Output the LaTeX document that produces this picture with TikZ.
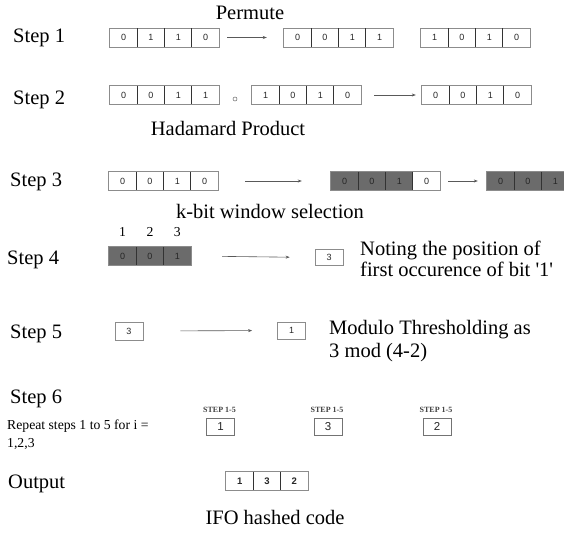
\documentclass[tikz,border=0pt]{standalone}
\usepackage{fontspec}
\setmainfont{Liberation Serif}
\newfontfamily\bitfont{Liberation Sans}
\usetikzlibrary{arrows.meta,calc}

% A row of bit cells: #1 name, #2 left x, #3 centre y, #4 value/style list, #5 cell count
\newcommand\bitgroup[5]{%
  \foreach \v/\s [count=\i] in {#4}
    {\node[\s] (#1\i) at ({#2+27.3*(\i-0.5)},#3) {\v};}
  \draw[frame] (#11.north west) rectangle (#1#5.south east);
  \foreach \i in {2,...,#5} {\draw[sepline] (#1\i.north west) -- (#1\i.south west);}
}

\begin{document}
\begin{tikzpicture}[x=1pt,y=-1pt,
  lbl/.style={font=\fontsize{20.5}{24}\selectfont, inner sep=0pt},
  small/.style={font=\fontsize{13.7}{16}\selectfont, inner sep=0pt},
  cell/.style={minimum width=27.3pt, minimum height=18.5pt, inner sep=0pt,
    font=\bitfont\fontsize{9}{10}\selectfont, text=black!85},
  dark/.style={cell, fill=black!58},
  outcell/.style={cell, font=\bitfont\bfseries\fontsize{9.5}{10}\selectfont},
  frame/.style={draw=black!45, line width=0.7pt},
  sepline/.style={draw=black!80, line width=0.7pt},
  single/.style={cell, frame, minimum width=28pt, minimum height=17pt},
  tag/.style={font=\bfseries\fontsize{8}{9}\selectfont, inner sep=0pt, text=black!75},
  arr/.style={draw=black!65, line width=0.6pt, -{Stealth[length=4pt,width=3pt]}},
]
\clip (0,0) rectangle (564,532);
\fill[white] (0,0) rectangle (564,532);

% Step 1: permutation
\node[lbl, anchor=base] (perm) at (250,20) {Permute};
\node[lbl, anchor=base west] (st1) at (13,43) {Step 1};
\bitgroup{a}{110}{37.5}{0/cell,1/cell,1/cell,0/cell}{4}
\bitgroup{b}{284}{37.5}{0/cell,0/cell,1/cell,1/cell}{4}
\bitgroup{c}{421}{37.5}{1/cell,0/cell,1/cell,0/cell}{4}
\draw[arr, shorten <=8pt, shorten >=17pt] (a4.east) -- (b1.west);

% Step 2: Hadamard product
\node[lbl, anchor=base west] (st2) at (13,104) {Step 2};
\bitgroup{d}{110}{95}{0/cell,0/cell,1/cell,1/cell}{4}
\node[circle, draw=black!60, line width=0.5pt, inner sep=0pt, minimum size=4pt] (hp) at (235,99) {};
\bitgroup{e}{252}{95}{1/cell,0/cell,1/cell,0/cell}{4}
\bitgroup{f}{422}{95}{0/cell,0/cell,1/cell,0/cell}{4}
\draw[arr, shorten <=13pt, shorten >=6pt] (e4.east) -- (f1.west);
\node[lbl, anchor=base] (had) at (228,135) {Hadamard Product};

% Step 3: k-bit window selection
\node[lbl, anchor=base west] (st3) at (10,186) {Step 3};
\bitgroup{g}{109}{181}{0/cell,0/cell,1/cell,0/cell}{4}
\bitgroup{h}{331}{181}{0/dark,0/dark,1/dark,0/cell}{4}
\bitgroup{k}{487}{181}{0/dark,0/dark,1/dark}{3}
\draw[arr, shorten <=27pt, shorten >=29pt] (g4.east) -- (h1.west);
\draw[arr, shorten <=8pt, shorten >=9pt] (h4.east) -- (k1.west);
\node[lbl, anchor=base] (kbit) at (270,218) {k-bit window selection};

% Step 4: position of the first 1
\node[lbl, anchor=base west] (st4) at (7,264) {Step 4};
\bitgroup{m}{109}{256}{0/dark,0/dark,1/dark}{3}
\foreach \i in {1,2,3}
  {\node[small, anchor=base] (p\i) at ($(m\i.north)+(0,-10)$) {\i};}
\node[single, minimum height=16pt] (s4) at (329,257.5) {3};
\draw[arr, shorten <=31pt, shorten >=25pt] (m3.east) -- (s4.west);
\node[lbl, anchor=base west] (note1) at (360,255) {Noting the position of};
\node[lbl, anchor=base west] (note2) at (360,276) {first occurence of bit \textquotesingle 1\textquotesingle};

% Step 5: modulo thresholding
\node[lbl, anchor=base west] (st5) at (10,338) {Step 5};
\node[single, minimum height=18pt] (s5a) at (129,331) {3};
\node[single, minimum height=17pt] (s5b) at (291.5,330.5) {1};
\draw[arr, shorten <=37pt, shorten >=25pt] (s5a.east) -- (s5b.west);
\node[lbl, anchor=base west] (mod1) at (329,334) {Modulo Thresholding as};
\node[lbl, anchor=base west] (mod2) at (329,357) {3 mod (4-2)};

% Step 6: repetition
\node[lbl, anchor=base west] (st6) at (10,403) {Step 6};
\node[small, anchor=base west] (rep1) at (7,429) {Repeat steps 1 to 5 for i =};
\node[small, anchor=base west] (rep2) at (7,447) {1,2,3};
\foreach \n/\x/\v in {r1/220.5/1, r2/328/3, r3/437/2} {
  \node[single, font=\bitfont\fontsize{11.5}{12}\selectfont, draw=black!55] (\n) at (\x,426.5) {\v};
  \node[tag, anchor=base] (\n t) at ($(\n.north)+(-1,-5)$) {STEP 1-5};
}

% Output
\node[lbl, anchor=base west] (out) at (8,488) {Output};
\bitgroup{o}{226}{481}{1/outcell,3/outcell,2/outcell}{3}
\node[lbl, anchor=base] (ifo) at (275,524) {IFO hashed code};
\end{tikzpicture}
\end{document}
